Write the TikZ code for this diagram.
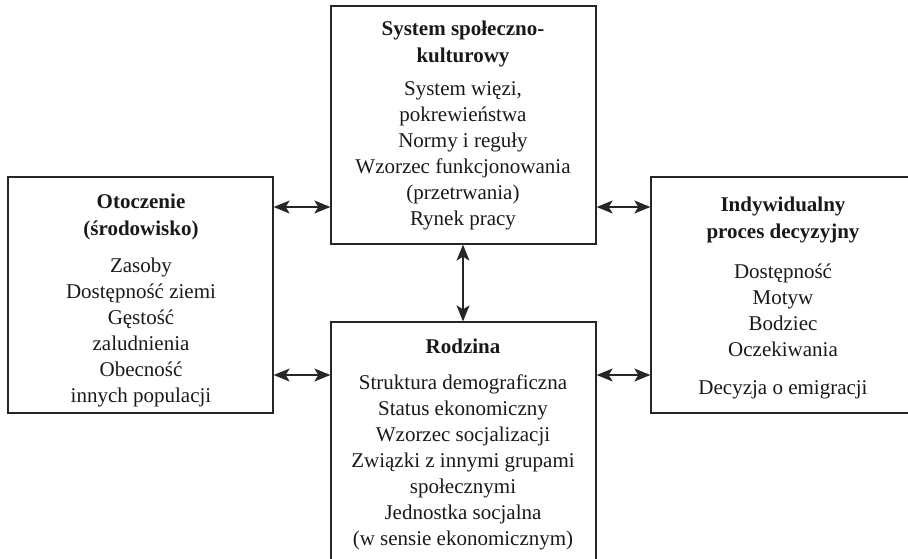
\documentclass[tikz,border=0pt]{standalone}
\usepackage{fontspec}
\setmainfont{Liberation Serif}
\usetikzlibrary{arrows.meta}
\begin{document}
\begin{tikzpicture}[x=1pt,y=-1pt,
  box/.style={draw=black!85, line width=1.3pt, rectangle, inner sep=0pt, minimum width=265pt},
  ttl/.style={align=center, font=\fontsize{21}{27}\selectfont\bfseries, text=black!90},
  body/.style={align=center, font=\fontsize{21}{26}\selectfont, text=black!90},
  arr/.style={line width=1.1pt, draw=black!85, {Stealth[length=16pt,width=13pt,inset=4pt]}-{Stealth[length=16pt,width=13pt,inset=4pt]}}]
\useasboundingbox (0,0) rectangle (908,558);
\clip (0,0) rectangle (908,558);
% boxes
\node[box, minimum height=236pt] (left) at (140.5,295) {};
\node[box, minimum height=238pt] (top) at (463.5,125) {};
\node[box, minimum height=258pt] (bot) at (463.5,451) {};
\node[box, minimum height=236pt, minimum width=264pt] (right) at (783,295) {};
% texts
\node[ttl] (topT) at (463,43.5) {System społeczno-\\kulturowy};
\node[body] (topB) at (463,155.5) {System więzi,\\pokrewieństwa\\Normy i reguły\\Wzorzec funkcjonowania\\(przetrwania)\\Rynek pracy};
\node[ttl] (leftT) at (141,216.5) {Otoczenie\\(środowisko)};
\node[body] (leftB) at (141,332.5) {Zasoby\\Dostępność ziemi\\Gęstość\\zaludnienia\\Obecność\\innych populacji};
\node[ttl] (rightT) at (783,220) {Indywidualny\\proces decyzyjny};
\node[body] (rightB) at (783,310) {Dostępność\\Motyw\\Bodziec\\Oczekiwania};
\node[body] (rightD) at (783,390) {Decyzja o emigracji};
\node[ttl] (botT) at (463,346) {Rodzina};
\node[body] (botB) at (463,462.5) {Struktura demograficzna\\Status ekonomiczny\\Wzorzec socjalizacji\\Związki z innymi grupami\\społecznymi\\Jednostka socjalna\\(w sensie ekonomicznym)};
% connectors
\coordinate (y1) at (0,207);
\coordinate (y2) at (0,375);
\coordinate (xv) at (463,0);
\draw[arr] (left.east |- y1) -- (top.west |- y1);
\draw[arr] (left.east |- y2) -- (bot.west |- y2);
\draw[arr] (top.east |- y1) -- (right.west |- y1);
\draw[arr] (bot.east |- y2) -- (right.west |- y2);
\draw[arr] (top.south -| xv) -- (bot.north -| xv);
\end{tikzpicture}
\end{document}
